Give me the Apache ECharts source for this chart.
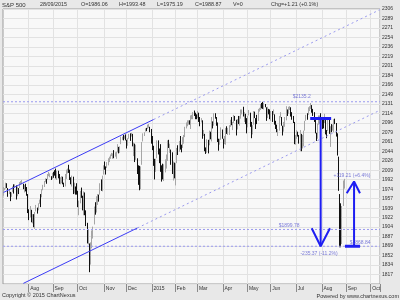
<!DOCTYPE html>
<html><head><meta charset="utf-8">
<script src="https://cdn.jsdelivr.net/npm/echarts@6/dist/echarts.min.js"></script>
<style>html,body{margin:0;padding:0;background:#e8e8e8}#c{width:400px;height:300px}</style>
</head><body><div id="c"></div>
<script>
// ---- category / tick data ----
const monthLabels = ['Jul','Aug','Sep','Oct','Nov','Dec','2015','Feb','Mar','Apr','May','Jun','Jul','Aug','Sep','Oct'];
const monthTradingDays = [22,21,21,23,19,22,20,19,22,21,20,22,22,21,21,8];
// price axis: first gridline value and step (labels 1817 ... 2306)
const PRICE_MIN = 1799.24, PRICE_STEP = 17.48, PRICE_STEPS = 29;

// ---- daily OHLC rows: [open, close, low, high] ----
const jul14 = [[1962,1973,1962,1978],[1973,1975,1972,1976],[1975,1985,1975,1986],[1985,1978,1976,1985],[1976,1964,1960,1976],[1965,1973,1965,1974],[1966,1965,1952,1969],[1965,1968,1960,1968],[1969,1977,1969,1979],[1977,1973,1966,1983],[1977,1982,1977,1983],[1979,1958,1955,1981],[1961,1978,1961,1979],[1976,1974,1965,1976],[1976,1984,1976,1987],[1985,1987,1982,1989],[1988,1988,1983,1991],[1984,1978,1974,1984],[1978,1979,1968,1982],[1980,1970,1970,1984],[1974,1970,1962,1978],[1965,1931,1930,1965]];
const aug14 = [[1929,1925,1917,1937],[1926,1939,1922,1943],[1936,1920,1913,1936],[1917,1920,1911,1928],[1923,1910,1904,1928],[1910,1932,1901,1932],[1933,1937,1933,1945],[1936,1934,1929,1940],[1935,1947,1935,1948],[1947,1955,1947,1955],[1958,1955,1941,1965],[1959,1972,1959,1974],[1972,1982,1972,1982],[1980,1987,1978,1989],[1987,1992,1987,1994],[1992,1988,1984,1993],[1992,1998,1992,2002],[1998,2000,1998,2006],[2000,2000,1996,2003],[1998,1997,1991,1998],[1999,2003,1993,2004]];
const sep14 = [[2004,2002,1995,2006],[2003,2001,1999,2009],[2001,1998,1994,2012],[1998,2008,1991,2008],[2007,2002,1994,2008],[2001,1988,1984,2002],[1988,1996,1983,1996],[1992,1997,1985,1998],[1997,1986,1983,1997],[1986,1984,1978,1986],[1982,1999,1979,2002],[1999,2002,1993,2010],[2003,2011,2003,2012],[2013,2010,2004,2019],[2010,1994,1991,2010],[1992,1983,1983,1996],[1983,1998,1979,1999],[1997,1966,1965,1997],[1966,1983,1966,1986],[1978,1978,1964,1979],[1979,1972,1964,1985]];
const oct14 = [[1971,1946,1941,1971],[1946,1946,1926,1953],[1948,1968,1948,1971],[1970,1965,1958,1977],[1962,1935,1935,1962],[1935,1969,1926,1970],[1968,1928,1926,1968],[1926,1906,1906,1935],[1906,1875,1874,1912],[1877,1878,1872,1899],[1874,1862,1821,1874],[1856,1863,1835,1876],[1865,1887,1865,1898],[1885,1904,1883,1905],[1909,1941,1909,1942],[1941,1927,1927,1950],[1931,1951,1931,1961],[1951,1965,1945,1965],[1962,1962,1951,1964],[1964,1985,1964,1985],[1983,1982,1971,1992],[1978,1995,1970,1999],[2001,2018,2001,2018]];
const nov14 = [[2019,2018,2010,2025],[2016,2012,2001,2016],[2016,2024,2013,2024],[2023,2031,2018,2031],[2032,2032,2024,2034],[2032,2038,2030,2038],[2038,2040,2035,2041],[2037,2038,2030,2040],[2040,2039,2031,2046],[2040,2040,2034,2042],[2038,2041,2030,2043],[2042,2052,2042,2057],[2052,2049,2040,2052],[2045,2053,2041,2053],[2057,2064,2057,2071],[2065,2069,2065,2071],[2070,2067,2064,2074],[2068,2073,2067,2073],[2074,2068,2064,2075]];
const dec14 = [[2065,2053,2049,2065],[2054,2067,2054,2068],[2067,2074,2067,2076],[2074,2072,2063,2077],[2072,2075,2071,2078],[2074,2060,2053,2076],[2057,2060,2035,2060],[2058,2026,2024,2058],[2028,2035,2028,2056],[2030,2002,2002,2031],[2006,1990,1982,2018],[1987,1973,1972,2017],[1974,2013,1974,2016],[2019,2061,2019,2061],[2062,2071,2062,2077],[2072,2079,2072,2079],[2081,2082,2080,2086],[2083,2082,2081,2087],[2085,2089,2085,2093],[2087,2091,2087,2094],[2089,2080,2079,2089],[2083,2059,2058,2085]];
const jan15 = [[2059,2058,2046,2072],[2054,2021,2017,2054],[2022,2003,1992,2030],[2006,2026,2006,2030],[2031,2062,2031,2064],[2064,2045,2038,2064],[2046,2028,2022,2049],[2032,2023,2006,2057],[2018,2011,1988,2018],[2014,1993,1992,2021],[1992,2019,1989,2020],[2021,2023,2005,2029],[2020,2032,2012,2038],[2034,2063,2026,2064],[2063,2052,2050,2065],[2051,2057,2041,2058],[2044,2030,2019,2047],[2032,2002,2002,2042],[2002,2021,1990,2025],[2019,1995,1994,2023]];
const feb15 = [[1997,2021,1981,2022],[2022,2050,2022,2050],[2048,2042,2037,2055],[2043,2063,2043,2063],[2062,2055,2047,2072],[2053,2047,2042,2056],[2050,2069,2050,2070],[2068,2069,2058,2074],[2070,2088,2070,2089],[2088,2097,2086,2097],[2097,2100,2090,2101],[2100,2100,2093,2101],[2098,2097,2093,2101],[2097,2110,2085,2110],[2109,2110,2103,2111],[2109,2115,2103,2116],[2114,2114,2109,2119],[2114,2111,2103,2115],[2110,2105,2103,2112]];
const mar15 = [[2105,2117,2105,2118],[2115,2108,2098,2115],[2107,2099,2090,2107],[2099,2101,2097,2105],[2100,2071,2067,2101],[2073,2079,2072,2083],[2076,2044,2044,2076],[2045,2040,2039,2051],[2041,2066,2041,2066],[2064,2053,2040,2065],[2055,2081,2055,2082],[2080,2074,2066,2080],[2073,2100,2062,2107],[2098,2089,2086,2099],[2091,2108,2091,2114],[2108,2104,2104,2114],[2104,2092,2091,2107],[2092,2061,2061,2097],[2059,2056,2045,2067],[2056,2061,2056,2067],[2065,2086,2065,2088],[2084,2068,2067,2084]];
const apr15 = [[2067,2060,2049,2067],[2060,2067,2057,2072],[2064,2081,2056,2087],[2081,2076,2076,2090],[2077,2082,2074,2087],[2082,2091,2074,2092],[2091,2102,2089,2102],[2102,2092,2092,2107],[2093,2096,2083,2098],[2096,2107,2096,2111],[2105,2105,2100,2109],[2102,2081,2073,2102],[2084,2100,2084,2103],[2102,2097,2094,2109],[2098,2108,2091,2109],[2107,2113,2104,2121],[2113,2118,2112,2121],[2120,2109,2108,2126],[2108,2115,2098,2116],[2113,2107,2094,2113],[2105,2086,2077,2105]];
const may15 = [[2088,2108,2088,2109],[2110,2114,2110,2120],[2113,2089,2089,2115],[2092,2080,2068,2098],[2080,2088,2075,2092],[2093,2116,2093,2118],[2116,2105,2105,2117],[2103,2099,2085,2105],[2100,2098,2094,2111],[2100,2121,2100,2122],[2122,2123,2117,2124],[2122,2129,2120,2131],[2130,2128,2123,2133],[2128,2126,2122,2135],[2125,2131,2121,2133],[2130,2126,2125,2131],[2125,2104,2100,2125],[2105,2123,2105,2126],[2122,2121,2112,2122],[2121,2107,2103,2121]];
const jun15 = [[2109,2112,2100,2118],[2111,2110,2098,2118],[2111,2114,2111,2121],[2112,2096,2093,2112],[2095,2093,2085,2100],[2092,2079,2079,2093],[2080,2080,2072,2085],[2082,2105,2082,2109],[2106,2109,2106,2116],[2107,2094,2091,2107],[2091,2084,2073,2091],[2085,2096,2080,2098],[2097,2100,2089,2107],[2101,2121,2101,2127],[2121,2110,2109,2121],[2113,2123,2113,2126],[2123,2124,2120,2127],[2124,2109,2108,2125],[2109,2102,2102,2116],[2103,2101,2096,2109],[2098,2058,2057,2098],[2061,2063,2056,2074]];
const jul15 = [[2067,2077,2067,2083],[2078,2077,2071,2080],[2074,2069,2058,2074],[2069,2081,2044,2083],[2076,2047,2044,2076],[2050,2051,2049,2074],[2053,2077,2053,2082],[2082,2100,2082,2100],[2100,2109,2100,2111],[2109,2107,2102,2114],[2111,2124,2111,2125],[2124,2127,2118,2127],[2127,2128,2122,2133],[2125,2119,2115,2129],[2115,2114,2109,2122],[2115,2102,2098,2116],[2103,2080,2077,2106],[2078,2068,2063,2078],[2070,2093,2067,2095],[2093,2109,2093,2110],[2107,2109,2094,2110],[2111,2104,2102,2114]];
const aug15 = [[2104,2098,2085,2106],[2098,2093,2086,2102],[2096,2100,2096,2113],[2100,2084,2075,2104],[2083,2078,2068,2083],[2081,2104,2081,2106],[2102,2084,2076,2103],[2082,2086,2052,2090],[2085,2083,2079,2094],[2083,2092,2082,2093],[2089,2102,2079,2103],[2101,2097,2094,2104],[2095,2080,2071,2096],[2077,2036,2036,2077],[2034,1971,1971,2034],[1965,1893,1867,1965],[1898,1868,1867,1948],[1873,1941,1873,1943],[1943,1988,1943,1990],[1986,1989,1975,1993]];

// ---- annotation values ----
const levelHigh = 2135.2, levelMid = 1899.78, levelLow = 1868.84;
const swingTop = 2104.21, swingRebound = 1988.05;
// channel lines: [index, price] end points
const upperSolid = [[0,1968.1],[129,2102.5]];
const upperDotted = [[129,2102.5],[323.5,2305.0]];
const lowerSolid = [[17,1800.4],[115,1902.5]];
const lowerDotted = [[115,1902.5],[323.5,2119.6]];
const headerTexts = [['S&P 500',2,6],['28/09/2015',40,5.4],['O=1986.06',81,5.4],['H=1993.48',119,5.4],['L=1975.19',157,5.4],['C=1988.87',195,5.4],['V=0',233,5.4],['Chg=+1.21 (+0.1%)',271,5.4]];

// ---- build ----
const ohlc = [].concat(jul14,aug14,sep14,oct14,nov14,dec14,jan15,feb15,mar15,apr15,may15,jun15,jul15,aug15);
const categories = [];
const monthStart = new Set();
monthTradingDays.forEach((n, m) => {
  if (m > 0) monthStart.add(categories.length);
  for (let d = 0; d < n; d++) categories.push(monthLabels[m] + '#' + m + '-' + d);
});
const N = categories.length;
const isStart = (i) => monthStart.has(i);
const FONT = 'Liberation Sans, Arial, sans-serif';
const dotBlue = '#9a9aee', solidBlue = '#3b3bf5', arrowBlue = '#1e1ef2', textBlue = '#5a5ad0';

function seg(data, color, width, type) {
  return {type:'line', xAxisIndex:1, yAxisIndex:0, data, symbol:'none', silent:true, clip:true,
    lineStyle:{color, width, type: type || 'solid'}, z: 5};
}
const chart = echarts.init(document.getElementById('c'), null, {renderer:'canvas'});
chart.setOption({
  animation:false,
  backgroundColor:'#e8e8e8',
  textStyle:{fontFamily:FONT},
  grid:{left:3, right:20, top:9, bottom:16, show:true, backgroundColor:'#f8f8f8', borderColor:'#9c9c9c', borderWidth:1},
  xAxis:[{
    type:'category', data:categories, boundaryGap:true, gridIndex:0,
    axisLine:{show:false},
    axisTick:{show:true, interval:(i)=>isStart(i), length:8, lineStyle:{color:'#8a8a8a'}},
    axisLabel:{show:true, interval:(i)=>isStart(i), formatter:(v)=>v.split('#')[0], align:'left', padding:[0,0,0,1],
      fontSize:5, color:'#333', margin:2, fontFamily:FONT},
    splitLine:{show:true, interval:(i)=>isStart(i), lineStyle:{color:'#e2e2e2', width:1}}
  },{
    type:'value', gridIndex:0, min:-0.5, max:N-0.5, show:false, position:'top'
  }],
  yAxis:[{
    type:'value', position:'right', min:PRICE_MIN, max:PRICE_MIN+PRICE_STEPS*PRICE_STEP+0.001, interval:PRICE_STEP,
    axisLine:{show:false}, axisTick:{show:false},
    axisLabel:{showMinLabel:false, showMaxLabel:true, fontSize:5, color:'#333', margin:2, fontFamily:FONT,
      formatter:(v)=>String(Math.round(v))},
    splitLine:{show:true, lineStyle:{color:'#e2e2e2', width:1}}
  }],
  series:[
    {type:'candlestick', xAxisIndex:0, yAxisIndex:0, data:ohlc, barWidth:1,
      itemStyle:{color:'#a6a6a6', color0:'#111111', borderColor:'#a6a6a6', borderColor0:'#111111', borderWidth:1}},
    seg([[-0.5,levelHigh],[N-0.5,levelHigh]], dotBlue, 1, [2,2]),
    seg([[-0.5,levelMid],[N-0.5,levelMid]], dotBlue, 1, [2,2]),
    seg([[-0.5,levelLow],[N-0.5,levelLow]], dotBlue, 1, [2,2]),
    seg(upperSolid, solidBlue, 1),
    seg(upperDotted, dotBlue, 1, [2,3]),
    seg(lowerSolid, solidBlue, 1),
    seg(lowerDotted, dotBlue, 1, [2,3]),
    // down move arrow
    seg([[263.5,swingTop],[281.5,swingTop]], arrowBlue, 3),
    seg([[272.5,swingTop],[272.5,levelLow]], arrowBlue, 2),
    seg([[264.8,1902],[272.5,levelLow],[280.5,1902]], arrowBlue, 2),
    // rebound arrow
    seg([[293.4,levelLow],[306.3,levelLow]], arrowBlue, 3),
    seg([[301.2,levelLow],[301.2,swingRebound]], arrowBlue, 2),
    seg([[294.9,1966.5],[301.2,swingRebound],[306.3,1966.5]], arrowBlue, 2),
    {type:'scatter', xAxisIndex:1, yAxisIndex:0, symbolSize:1, itemStyle:{color:'rgba(0,0,0,0)'}, silent:true, z:6,
      label:{show:true, position:'right', distance:0, fontSize:5, fontFamily:FONT, color:textBlue},
      data:[
        {value:[248, levelHigh], label:{formatter:'$' + levelHigh, offset:[0,-5]}},
        {value:[236, levelMid], label:{formatter:'$' + levelMid, offset:[0,-4]}},
        {value:[297, levelLow], label:{formatter:'$' + levelLow, offset:[0,-4]}},
        {value:[254.7, levelLow], label:{formatter:'-' + (swingTop-levelLow).toFixed(2) + ' (-11.2%)', offset:[0,7]}},
        {value:[283.1, swingRebound], label:{formatter:'+' + (swingRebound-levelLow).toFixed(2) + ' (+6.4%)', offset:[0,-6]}}
      ]}
  ],
  graphic: headerTexts.map(([t,x,fs]) => ({type:'text', x, y:5, silent:true,
      style:{text:t, fontSize:fs, fontFamily:FONT, fill:'#333', verticalAlign:'middle'}}))
    .concat([
      {type:'text', x:2, y:295, style:{text:'Copyright © 2015 ChartNexus', fontSize:5.5, fontFamily:FONT, fill:'#333', verticalAlign:'middle'}},
      {type:'text', x:399, y:296, style:{text:'Powered by www.chartnexus.com', fontSize:5.5, fontFamily:FONT, fill:'#333', align:'right', verticalAlign:'middle'}}
    ])
});
</script></body></html>
